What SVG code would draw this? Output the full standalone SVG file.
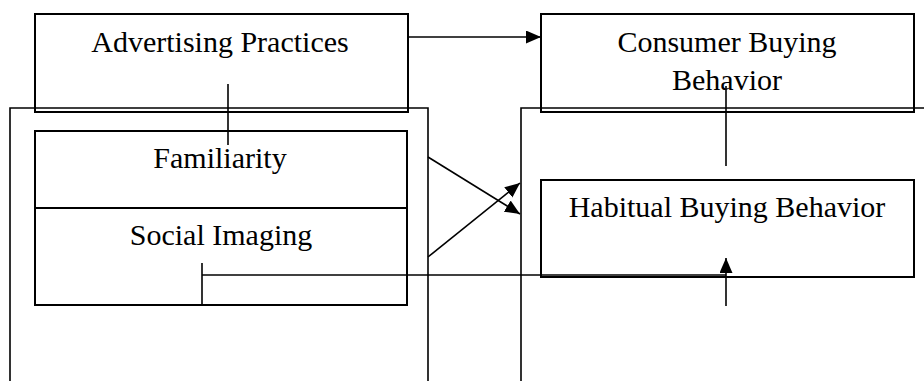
<svg xmlns="http://www.w3.org/2000/svg" width="924" height="381" viewBox="0 0 924 381">
<style>
.box{fill:none;stroke:#000;stroke-width:2}
.frame{fill:none;stroke:#000;stroke-width:1.6}
.ln{fill:none;stroke:#000;stroke-width:1.6}
text{font-family:"Liberation Serif","Times New Roman",serif;font-size:30px;fill:#000;text-anchor:middle}
</style>
<defs>
<marker id="ah" markerUnits="userSpaceOnUse" markerWidth="16" markerHeight="14" refX="15" refY="6.5" orient="auto">
<path d="M0,0 L15,6.5 L0,13 Z" fill="#000"/>
</marker>
</defs>
<rect width="924" height="381" fill="#fff"/>
<g id="left-frame"><path class="frame" d="M10,381 V108 H428 V381"/></g>
<g id="right-frame"><path class="frame" d="M521,381 V108 H924"/></g>
<g id="advertising-practices">
<rect class="box" x="35" y="14" width="373" height="98"/>
<text x="220" y="52">Advertising Practices</text>
</g>
<g id="consumer-buying-behavior">
<rect class="box" x="541" y="14" width="373" height="98"/>
<text x="727" y="52">Consumer Buying</text>
<text x="727" y="90">Behavior</text>
</g>
<g id="familiarity">
<path class="box" d="M35,208 V131 H407 V208"/>
<text x="220" y="168">Familiarity</text>
</g>
<g id="social-imaging">
<rect class="box" x="35" y="208" width="372" height="97"/>
<text x="221" y="245">Social Imaging</text>
</g>
<g id="habitual-buying-behavior">
<rect class="box" x="541" y="180" width="373" height="97"/>
<text x="727" y="217">Habitual Buying Behavior</text>
</g>
<g id="connectors">
<line class="ln" x1="408" y1="37" x2="541" y2="37" marker-end="url(#ah)"/>
<line class="ln" x1="228" y1="84" x2="228" y2="145"/>
<line class="ln" x1="726" y1="86" x2="726" y2="166"/>
<line class="ln" x1="428" y1="157" x2="520" y2="214" marker-end="url(#ah)"/>
<line class="ln" x1="428" y1="257" x2="520" y2="183" marker-end="url(#ah)"/>
<line class="ln" x1="202" y1="263" x2="202" y2="305"/>
<line class="ln" x1="202" y1="275" x2="726" y2="275"/>
<line class="ln" x1="726" y1="306" x2="726" y2="258" marker-end="url(#ah)"/>
</g>
</svg>
